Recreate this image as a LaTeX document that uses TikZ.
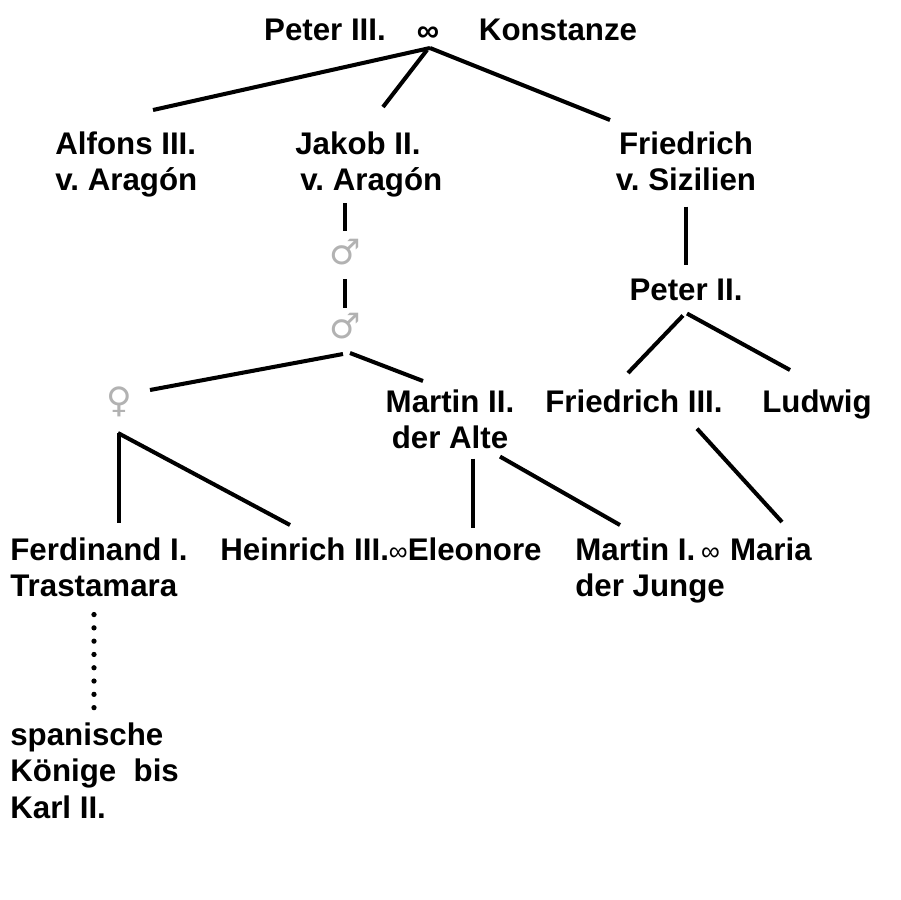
\documentclass[tikz,border=0pt]{standalone}
\usepackage{fontspec}
\setmainfont{Liberation Sans}
\newfontfamily\symfont{DejaVu Sans}
\newcommand{\smallinf}{{\fontsize{15pt}{15pt}\selectfont\mdseries ∞}}

\begin{document}
\frenchspacing
\begin{tikzpicture}[x=0.02cm, y=-0.02cm,
    person/.style={inner sep=0pt, font=\fontsize{17.8pt}{21pt}\selectfont\bfseries},
    sex/.style={inner sep=0pt, text=gray!60, font=\fontsize{20pt}{24pt}\selectfont\symfont},
    link/.style={line width=2.3pt},
    lineage/.style={line width=3pt, line cap=round, dash pattern=on 0pt off 0.266cm}]

\useasboundingbox (0,0) rectangle (900,900);

% Eltern oben
\node[person, anchor=north] (peterIII) at (325,19) {Peter III.};
\node[person, anchor=base] (inf) at (428,41) {∞};
\node[person, anchor=north] (konstanze) at (558,19) {Konstanze};
\coordinate (topjoin) at ([shift={(2,7)}]inf.base);

% Kinder
\node[person, anchor=north west, align=left] (alfons) at (55,131) {Alfons III.\\v. Aragón};
\node[person, anchor=north west, align=left] (jakob) at (295,131) {Jakob II.\\\hspace*{1mm}v. Aragón};
\node[person, anchor=north, align=center] (friedrich) at (686,131) {Friedrich\\v. Sizilien};

% Linie Aragon
\node[sex] (sym1) at (345,252) {♂};
\node[sex] (sym2) at (345,326) {♂};
\node[sex] (sym3) at (119,402) {♀};
\node[person, anchor=north, align=center] (martinII) at (450,389) {Martin II.\\der Alte};

% Linie Sizilien
\node[person, anchor=north] (peterII) at (686,279) {Peter II.};
\node[person, anchor=north] (friedrichIII) at (634,389) {Friedrich III.};
\node[person, anchor=north] (ludwig) at (817,389) {Ludwig};

% Enkel
\node[person, anchor=north west, align=left] (ferdinand) at (10,537) {Ferdinand I.\\Trastamara};
\node[person, anchor=north] (heinrich) at (381,537) {Heinrich III.\smallinf Eleonore};
\node[person, anchor=north west, align=left] (martinI) at (575,537) {Martin I.\hspace{0.12cm}\smallinf\hspace{0.2cm}Maria\\der Junge};
\node[person, anchor=north west, align=left] (spanisch) at (10,722) {spanische\\Könige~~bis\\Karl II.};

% Verbindungen von Peter III.
\draw[link] (topjoin) -- ([shift={(98,-21)}]alfons.north west);
\draw[link] ([shift={(-3,2)}]topjoin) -- ([shift={(88,-24)}]jakob.north west);
\draw[link] (topjoin) -- ([shift={(-76,-11)}]friedrich.north);

% Verbindungen Aragon
\draw[link, shorten <=0.11cm, shorten >=0.42cm] (jakob.south -| sym1.center) -- (sym1.center);
\draw[link, shorten <=0.54cm, shorten >=0.36cm] (sym1.center) -- (sym2.center);
\draw[link] ([shift={(-2,28)}]sym2.center) -- ([shift={(31,-12)}]sym3.center);
\draw[link] ([shift={(5,27)}]sym2.center) -- ([shift={(-27,-8)}]martinII.north);
\draw[link, shorten <=0.62cm, shorten >=0.28cm] (sym3.center) -- (sym3.center |- ferdinand.north);
\draw[link] ([shift={(-1,31)}]sym3.center) -- ([shift={(-91,-12)}]heinrich.north);
\draw[link] ([shift={(23,9)}]martinII.south) -- ([shift={(92,-9)}]heinrich.north);
\draw[link] ([shift={(50,7)}]martinII.south) -- ([shift={(45,-12)}]martinI.north west);

% Verbindungen Sizilien
\draw[link, shorten <=0.3cm, shorten >=0.28cm] (friedrich.south) -- (peterII.north);
\draw[link] ([shift={(-3,14)}]peterII.south) -- ([shift={(-6,-16)}]friedrichIII.north);
\draw[link] ([shift={(1,12)}]peterII.south) -- ([shift={(-27,-19)}]ludwig.north);
\draw[link] ([shift={(63,16)}]friedrichIII.south) -- ([shift={(207,-15)}]martinI.north west);

% Nachkommen
\draw[lineage] ([shift={(84,17)}]ferdinand.south west) -- ++(0,94);

\end{tikzpicture}
\end{document}
